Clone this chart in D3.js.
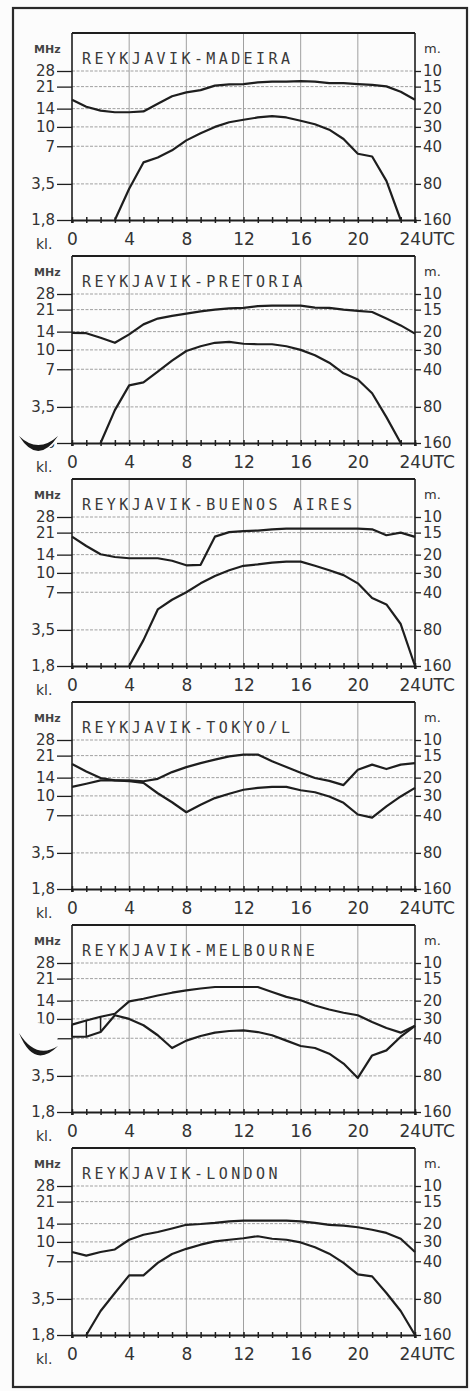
<!DOCTYPE html>
<html><head><meta charset="utf-8">
<script src="https://cdn.jsdelivr.net/npm/d3@7"></script>
<style>
html,body{margin:0;padding:0;background:#fff;}
svg{display:block;}
</style></head><body>
<svg id="c" width="470" height="1391"></svg>
<script>
// ---------- DATA ----------
const hours = [0,1,2,3,4,5,6,7,8,9,10,11,12,13,14,15,16,17,18,19,20,21,22,23,24];
const hourLabelVals = [0,4,8,12,16,20,24];
const hourLabels = ["0","4","8","12","16","20","24UTC"];
const freqTicks = [1.8,3.5,7,10,14,21,28];
const freqLabels = ["1,8","3,5","7","10","14","21","28"];
const waveLabels = ["160","80","40","30","20","15","10"];

const titles = ["REYKJAVIK-MADEIRA","REYKJAVIK-PRETORIA","REYKJAVIK-BUENOS AIRES","REYKJAVIK-TOKYO/L","REYKJAVIK-MELBOURNE","REYKJAVIK-LONDON"];

const madeiraUpper = [16.5,14.5,13.5,13.1,13.1,13.3,15.3,17.6,18.9,19.7,21.4,21.9,22.0,22.7,23.0,23.0,23.2,23.0,22.4,22.4,22.0,21.7,21.1,19.1,16.5];
const madeiraLower = [null,null,null,1.8,3.2,5.2,5.7,6.5,7.8,8.9,10.0,10.9,11.4,11.9,12.2,11.9,11.2,10.5,9.5,8.0,6.1,5.8,3.7,1.8,null];

const pretoriaUpper = [13.7,13.6,12.5,11.4,13.3,16.0,17.8,18.7,19.5,20.3,21.0,21.5,21.7,22.4,22.6,22.6,22.6,21.8,21.7,21.0,20.5,20.1,17.8,15.7,13.5];
const pretoriaLower = [null,null,1.8,3.3,5.2,5.5,6.7,8.2,9.8,10.7,11.4,11.6,11.2,11.1,11.1,10.7,10.0,9.05,7.9,6.5,5.8,4.5,2.9,1.8,null];

const buenosUpper = [19.5,16.4,14.1,13.4,13.1,13.1,13.1,12.5,11.5,11.6,19.5,21.2,21.6,21.8,22.3,22.6,22.6,22.6,22.6,22.6,22.6,22.3,20.0,21.0,19.4];
const buenosLower = [null,null,null,null,1.8,2.9,5.1,6.1,7.0,8.25,9.45,10.5,11.4,11.7,12.1,12.3,12.3,11.4,10.5,9.6,8.25,6.3,5.6,3.9,1.8];

const tokyoA = [18.0,15.7,13.9,13.3,13.1,12.7,10.5,8.9,7.4,8.5,9.6,10.4,11.2,11.6,11.8,11.8,11.1,10.7,9.9,8.8,7.1,6.7,8.25,9.9,11.6];
const tokyoB = [11.8,12.5,13.3,13.3,13.3,13.1,13.7,15.5,17.0,18.3,19.5,20.7,21.4,21.4,18.9,17.0,15.3,13.9,13.2,12.2,16.2,17.8,16.4,17.8,18.3];

const melbUpper = [9.0,9.7,10.4,11.0,13.8,14.5,15.4,16.2,16.9,17.5,18.0,18.0,18.0,18.0,16.4,15.0,14.1,12.8,11.9,11.2,10.7,9.45,8.45,7.76,8.8];
const melbLower = [7.2,7.2,7.85,10.7,10.0,8.9,7.4,5.85,6.7,7.3,7.76,8.0,8.1,7.85,7.4,6.7,6.07,5.85,5.27,4.39,3.37,5.1,5.6,7.2,8.8];
const melbHatchHours = [0,1,2];

const londonUpper = [8.3,7.76,8.3,8.7,10.4,11.4,12.0,12.8,13.7,13.9,14.2,14.6,14.8,14.8,14.8,14.8,14.6,14.2,13.7,13.5,13.1,12.5,11.8,10.6,8.3];
const londonLower = [null,1.8,2.8,3.9,5.4,5.4,6.8,8.0,8.8,9.5,10.1,10.4,10.7,11.1,10.6,10.4,9.9,9.05,8.05,6.8,5.5,5.3,3.9,2.8,1.8];

const panelSeries = [
  [madeiraUpper, madeiraLower],
  [pretoriaUpper, pretoriaLower],
  [buenosUpper, buenosLower],
  [tokyoA, tokyoB],
  [melbUpper, melbLower],
  [londonUpper, londonLower]
];

// ---------- DRAW ----------
const svg = d3.select("#c");
svg.append("rect").attr("width",470).attr("height",1391).attr("fill","#fcfcfc");
svg.append("rect").attr("x",13).attr("y",8).attr("width",454).attr("height",1379)
  .attr("fill","none").attr("stroke","#2a2a2a").attr("stroke-width",2.2);

const x = d3.scaleLinear().domain([0,24]).range([72,415]);
const panelH = 187, bottom0 = 220, step = 223;
const ink = "#1e1e1e";

panelSeries.forEach((series, i) => {
  const bottom = bottom0 + i*step, top = bottom - panelH;
  const y = d3.scaleLog().domain([1.8,28]).range([bottom, bottom-149]);
  const g = svg.append("g");

  // vertical grid
  g.selectAll(".vg").data(hourLabelVals.slice(1,-1)).join("line")
    .attr("x1",d=>x(d)).attr("x2",d=>x(d)).attr("y1",top).attr("y2",bottom)
    .attr("stroke","#a0a0a0").attr("stroke-width",1);
  // horizontal grid
  g.selectAll(".hg").data(freqTicks.slice(1)).join("line")
    .attr("x1",x(0)).attr("x2",x(24)).attr("y1",d=>y(d)).attr("y2",d=>y(d))
    .attr("stroke","#a0a0a0").attr("stroke-width",1).attr("stroke-dasharray","3,1.5");

  // left axis
  const la = g.append("g").attr("transform",`translate(${x(0)},0)`)
    .call(d3.axisLeft(y).tickValues(freqTicks).tickFormat((d,k)=>freqLabels[k]).tickSize(15).tickPadding(2));
  la.select(".domain").remove();
  la.selectAll("line").attr("stroke",ink).attr("stroke-width",1.3);
  la.selectAll("text").attr("font-family","DejaVu Sans").attr("font-size",15).attr("fill","#333");

  // right axis
  const ra = g.append("g").attr("transform",`translate(${x(24)},0)`)
    .call(d3.axisRight(y).tickValues(freqTicks).tickFormat((d,k)=>waveLabels[k]).tickSize(6).tickPadding(2));
  ra.select(".domain").remove();
  ra.selectAll("line").attr("stroke",ink).attr("stroke-width",1.3);
  ra.selectAll("text").attr("font-family","DejaVu Sans").attr("font-size",15).attr("fill","#333");

  // frame sides and top
  g.append("line").attr("x1",x(0)).attr("x2",x(0)).attr("y1",top).attr("y2",bottom+3)
    .attr("stroke",ink).attr("stroke-width",1.6);
  g.append("line").attr("x1",x(24)).attr("x2",x(24)).attr("y1",top).attr("y2",bottom+3)
    .attr("stroke",ink).attr("stroke-width",1.6);
  g.append("line").attr("x1",x(0)).attr("x2",x(24)).attr("y1",top).attr("y2",top)
    .attr("stroke",ink).attr("stroke-width",2.2);

  // bottom axis with hour ticks
  const ba = g.append("g").attr("transform",`translate(0,${bottom})`)
    .call(d3.axisBottom(x).tickValues(hours).tickSize(3).tickFormat(""));
  ba.select(".domain").attr("stroke",ink).attr("stroke-width",2.2);
  ba.selectAll("line").attr("stroke",ink).attr("stroke-width",1.5).attr("y1",-3);

  // hour labels
  const hl = g.append("g").attr("transform",`translate(0,${bottom})`)
    .call(d3.axisBottom(x).tickValues(hourLabelVals).tickFormat((d,k)=>hourLabels[k]).tickSize(0).tickPadding(13));
  hl.select(".domain").remove();
  hl.selectAll("text").attr("font-family","DejaVu Sans").attr("font-size",17).attr("fill","#333");
  hl.selectAll("text").filter(d=>d===24).attr("text-anchor","start").attr("dx",-16);
  g.append("text").attr("x",36).attr("y",bottom+29).text("kl.")
    .attr("font-family","DejaVu Sans").attr("font-size",14).attr("fill","#333");

  // unit labels
  g.append("text").attr("x",34).attr("y",top+20).text("MHz")
    .attr("font-family","DejaVu Sans").attr("font-size",11).attr("font-weight","bold").attr("fill","#444");
  g.append("text").attr("x",424).attr("y",top+20).text("m.")
    .attr("font-family","DejaVu Sans").attr("font-size",13).attr("fill","#333");

  // title
  g.append("text").attr("x",82).attr("y",top+31).text(titles[i])
    .attr("font-family","DejaVu Sans Mono").attr("font-size",15).attr("letter-spacing",3.4)
    .attr("fill","#3a3a3a");

  // curves
  const line = d3.line().defined(d=>d!=null).x((d,k)=>x(hours[k])).y(d=>y(d));
  series.forEach(s => {
    g.append("path").attr("d", line(s)).attr("fill","none")
      .attr("stroke",ink).attr("stroke-width",2.2).attr("stroke-linejoin","round");
  });

  if (i === 4) {
    g.selectAll(".hatch").data(melbHatchHours).join("line")
      .attr("x1",d=>x(d)).attr("x2",d=>x(d))
      .attr("y1",d=>y(melbUpper[d])).attr("y2",d=>y(melbLower[d]))
      .attr("stroke",ink).attr("stroke-width",1.5);
  }
});

// binder punch holes from the scan (white hole + dark crescent shadow)
svg.append("ellipse").attr("cx",38).attr("cy",434).attr("rx",20).attr("ry",17).attr("fill","#fcfcfc");
svg.append("path").attr("d","M19,436 Q38,466 58,436 Q38,454 19,436 Z").attr("fill","#1a1a1a");
svg.append("ellipse").attr("cx",38).attr("cy",1036).attr("rx",20).attr("ry",13).attr("fill","#fcfcfc");
svg.append("path").attr("d","M19,1033 Q34,1070 58,1046 Q36,1060 19,1033 Z").attr("fill","#1a1a1a");
</script>
</body></html>
